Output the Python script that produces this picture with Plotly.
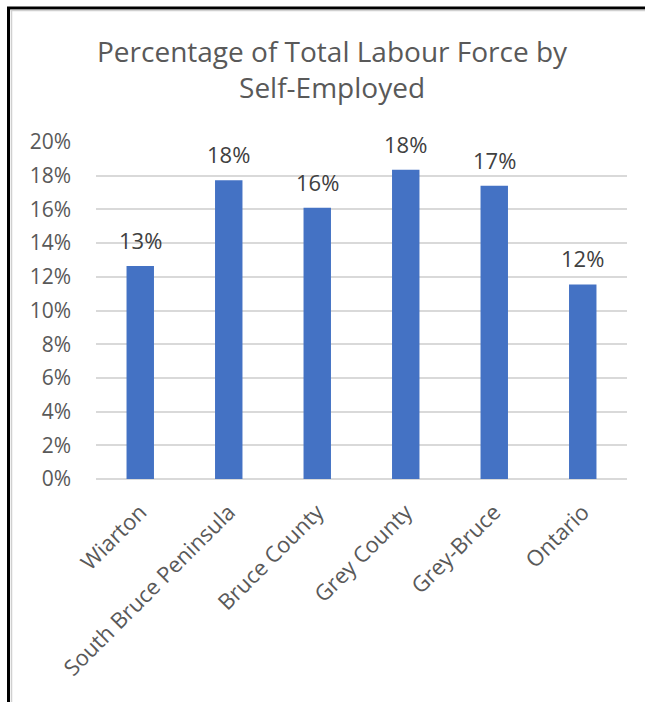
import plotly.graph_objects as go

categories = ["Wiarton", "South Bruce Peninsula", "Bruce County", "Grey County", "Grey-Bruce", "Ontario"]
values = [0.1264, 0.1773, 0.1610, 0.1836, 0.1740, 0.1155]
y_ticks = [0, 0.02, 0.04, 0.06, 0.08, 0.10, 0.12, 0.14, 0.16, 0.18, 0.20]
y_tick_labels = ["0%", "2%", "4%", "6%", "8%", "10%", "12%", "14%", "16%", "18%", "20%"]
title_text = "Percentage of Total Labour Force by<br>Self-Employed"

FONT = "Open Sans"
W, H = 645, 702
ML, MR, MT, MB = 96, 18, 142, 223
PW = W - ML - MR
PH = H - MT - MB

fig = go.Figure()
fig.add_trace(go.Bar(
    x=categories, y=values,
    marker=dict(color="#4472C4", line=dict(width=0)),
    hoverinfo="x+y",
))

for c, v in zip(categories, values):
    fig.add_annotation(
        x=c, y=v, text=f"{v:.0%}", showarrow=False,
        yanchor="bottom", yshift=9,
        font=dict(family=FONT, size=22, color="#404040"),
    )

def px_x(p):
    return (p - ML) / PW

def px_y(p):
    return (H - MB - p) / PH

# title as a paper annotation for precise placement
fig.add_annotation(
    x=px_x(332), y=px_y(30), xref="paper", yref="paper",
    xanchor="center", yanchor="top", showarrow=False,
    text=title_text, align="center",
    font=dict(family=FONT, size=28, color="#595959"),
)

shapes = [
    dict(type="line", xref="paper", yref="paper", x0=px_x(8.5), x1=px_x(8.5), y0=px_y(7), y1=px_y(H + 5),
         line=dict(color="#000000", width=3)),
    dict(type="line", xref="paper", yref="paper", x0=px_x(7), x1=px_x(W + 5), y0=px_y(8), y1=px_y(8),
         line=dict(color="#000000", width=3)),
    dict(type="line", xref="paper", yref="paper", x0=px_x(11.5), x1=px_x(11.5), y0=px_y(10.5), y1=px_y(H + 5),
         line=dict(color="#D0D0D0", width=1.5)),
    dict(type="line", xref="paper", yref="paper", x0=px_x(10.5), x1=px_x(W + 5), y0=px_y(10.5), y1=px_y(10.5),
         line=dict(color="#D0D0D0", width=1.5)),
]

fig.update_layout(
    width=W, height=H,
    margin=dict(l=ML, r=MR, t=MT, b=MB, autoexpand=False),
    paper_bgcolor="white", plot_bgcolor="white",
    bargap=0.69,
    showlegend=False,
    shapes=shapes,
    xaxis=dict(
        tickangle=-45, tickfont=dict(family=FONT, size=22, color="#595959"),
        showgrid=False, showline=False, ticks="", zeroline=False,
        ticklabelstandoff=15,
    ),
    yaxis=dict(
        range=[0, 0.2], tickvals=y_ticks, ticktext=y_tick_labels,
        tickfont=dict(family=FONT, size=21, color="#595959"),
        showgrid=True, gridcolor="#D9D9D9", gridwidth=1.5,
        zeroline=True, zerolinecolor="#D9D9D9", zerolinewidth=1.5,
        showline=False, ticks="", ticklabelstandoff=24,
    ),
)

fig.write_html("out.html")
